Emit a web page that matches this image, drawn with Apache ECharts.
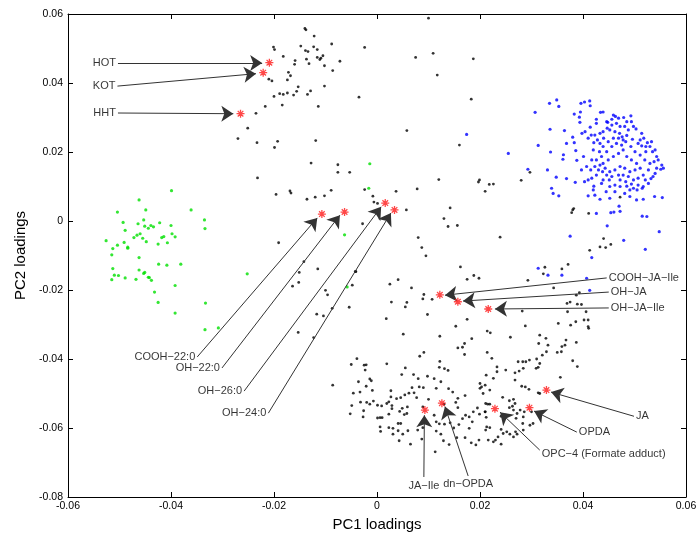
<!DOCTYPE html>
<html><head><meta charset="utf-8">
<script src="https://cdn.jsdelivr.net/npm/echarts@6/dist/echarts.min.js"></script>
<style>html,body{margin:0;padding:0;background:#fff}#c{width:700px;height:536px}</style>
</head><body><div id="c"></div>
<script>
const xTicks = [-0.06, -0.04, -0.02, 0, 0.02, 0.04, 0.06];
const yTicks = [-0.08, -0.06, -0.04, -0.02, 0, 0.02, 0.04, 0.06];

const blackPoints = [
[-0.0140,0.0558],[-0.0138,0.0554],[-0.0122,0.0536],[-0.0088,0.0513],[-0.0024,0.0503],[-0.0201,0.0504],[-0.0199,0.0497],[-0.0148,0.0507],[-0.0139,0.0494],[-0.0134,0.0491],[-0.0123,0.0505],[-0.0116,0.0497],[-0.0105,0.0479],[-0.0116,0.0474],[-0.0111,0.0468],[-0.0109,0.0472],[-0.0137,0.0469],[-0.0132,0.0456],[-0.0102,0.0450],[-0.0072,0.0463],[-0.0086,0.0436],[-0.0182,0.0477],[-0.0159,0.0465],[-0.0160,0.0454],[-0.0172,0.0431],[-0.0168,0.0421],[-0.0174,0.0409],[-0.0210,0.0411],[-0.0204,0.0406],[-0.0153,0.0389],[-0.0156,0.0376],[-0.0162,0.0365],[-0.0174,0.0371],[-0.0182,0.0367],[-0.0189,0.0369],[-0.0200,0.0361],[-0.0129,0.0377],[-0.0135,0.0367],[-0.0102,0.0391],[-0.0035,0.0359],[-0.0114,0.0332],[-0.0184,0.0336],[-0.0217,0.0332],[-0.0235,0.0312],[-0.0251,0.0269],[-0.0270,0.0239],[-0.0233,0.0227],[-0.0193,0.0231],[-0.0119,0.0233],
[0.0100,0.0588],[0.0075,0.0474],[0.0109,0.0486],[0.0187,0.0470],[0.0117,0.0423],[0.0183,0.0353],
[0.0058,0.0262],[0.0160,0.0220],[0.0120,0.0120],[0.0199,0.0119],[0.0197,0.0113],[0.0218,0.0106],[0.0226,0.0107],[0.0210,0.0086],[0.0280,0.0118],[0.0297,0.0141],[0.0037,0.0086],[0.0078,0.0093],[0.0057,0.0032],[0.0142,0.0038],[0.0130,0.0007],[0.0138,-0.0016],[0.0156,-0.0013],[0.0080,-0.0048],[0.0087,-0.0077],[0.0095,-0.0101],[0.0239,-0.0047],[0.0162,-0.0133],[0.0175,-0.0169],[0.0188,-0.0158],[0.0198,-0.0166],[0.0293,-0.0172],[0.0025,-0.0183],[0.0041,-0.0170],[0.0067,-0.0194],[0.0091,-0.0213],[0.0107,-0.0227],
[0.0326,-0.0134],[0.0323,-0.0153],[0.0359,-0.0139],[0.0371,-0.0126],[0.0343,-0.0194],
[0.0472,0.0069],[0.0380,0.0032],[0.0382,0.0036],[0.0378,0.0024],[0.0411,0.0022],[0.0440,-0.0051],[0.0433,-0.0075],[0.0444,-0.0077],[0.0454,-0.0068],[0.0413,-0.0085],
[-0.0199,0.0213],[-0.0128,0.0168],[-0.0076,0.0163],[-0.0076,0.0141],[-0.0053,0.0141],[-0.0232,0.0125],[-0.0196,0.0077],[-0.0169,0.0087],[-0.0167,0.0081],[-0.0136,0.0063],[-0.0120,0.0069],[-0.0102,0.0073],[-0.0089,0.0089],[-0.0024,0.0091],[-0.0008,0.0072],[-0.0006,0.0055],[0.0001,0.0051],[-0.0191,-0.0063],[-0.0028,-0.0008],[-0.0142,-0.0118],[-0.0115,-0.0139],[-0.0151,-0.0149],[-0.0152,-0.0178],[-0.0164,-0.0189],[-0.0042,-0.0146],[-0.0048,-0.0186],[-0.0100,-0.0201],[-0.0096,-0.0214],[-0.0054,-0.0250],[-0.0087,-0.0253],[-0.0117,-0.0270],[-0.0104,-0.0275],[0.0018,-0.0283],[-0.0153,-0.0323],[-0.0123,-0.0338],
[-0.0041,-0.0147],[0.0089,-0.0226],[0.0028,-0.0235],[0.0058,-0.0236],[0.0055,-0.0249],[0.0098,-0.0271],[0.0051,-0.0328],[0.0122,-0.0334],[0.0175,-0.0285],[0.0153,-0.0305],[0.0184,-0.0341],[0.0170,-0.0355],[0.0166,-0.0366],[0.0157,-0.0368],[0.0214,-0.0319],[0.0214,-0.0381],[0.0170,-0.0387],[0.0091,-0.0381],[0.0083,-0.0392],[-0.0039,-0.0399],[-0.0050,-0.0416],[-0.0025,-0.0418],[-0.0021,-0.0417],[-0.0023,-0.0432],[0.0019,-0.0414],[0.0122,-0.0407],[0.0121,-0.0424],[0.0131,-0.0428],[0.0138,-0.0433],[0.0055,-0.0426],[0.0048,-0.0445],[0.0071,-0.0445],[0.0080,-0.0457],[0.0098,-0.0450],[0.0111,-0.0457],[0.0124,-0.0466],[0.0082,-0.0481],[0.0090,-0.0483],[0.0115,-0.0485],[-0.0086,-0.0476],[-0.0036,-0.0466],[-0.0014,-0.0458],[-0.0011,-0.0463],[-0.0021,-0.0479],[-0.0009,-0.0491],[-0.0046,-0.0499],[-0.0033,-0.0496],[-0.0032,-0.0525],[-0.0049,-0.0535],[-0.0026,-0.0550],[-0.0052,-0.0559],[-0.0027,-0.0568],[-0.0020,-0.0526],[-0.0014,-0.0531],[-0.0007,-0.0522],[0.0001,-0.0534],[0.0009,-0.0536],[0.0006,-0.0570],[0.0001,-0.0571],[0.0010,-0.0570],[0.0019,-0.0529],[0.0023,-0.0524],[0.0027,-0.0510],[0.0027,-0.0492],[0.0029,-0.0535],[0.0029,-0.0544],[0.0038,-0.0515],[0.0046,-0.0512],[0.0054,-0.0504],[0.0062,-0.0499],[0.0068,-0.0483],[0.0072,-0.0498],[0.0077,-0.0512],[0.0059,-0.0539],[0.0049,-0.0543],[0.0044,-0.0552],[0.0053,-0.0561],[0.0058,-0.0558],[0.0023,-0.0560],[0.0031,-0.0601],[0.0041,-0.0587],[0.0046,-0.0587],[0.0041,-0.0608],[0.0050,-0.0618],[0.0060,-0.0608],[0.0023,-0.0599],[0.0031,-0.0618],[0.0006,-0.0597],[0.0007,-0.0610],[0.0043,-0.0637],[0.0065,-0.0647],[0.0079,-0.0606],[0.0089,-0.0599],[0.0087,-0.0632],[0.0089,-0.0539],[0.0100,-0.0517],[0.0111,-0.0563],[0.0115,-0.0582],[0.0121,-0.0588],[0.0115,-0.0609],[0.0124,-0.0618],[0.0131,-0.0589],[0.0142,-0.0585],[0.0149,-0.0600],[0.0159,-0.0590],[0.0166,-0.0573],[0.0172,-0.0563],[0.0179,-0.0568],[0.0179,-0.0601],[0.0185,-0.0582],[0.0187,-0.0553],[0.0195,-0.0542],[0.0199,-0.0560],[0.0210,-0.0553],[0.0212,-0.0569],[0.0211,-0.0606],[0.0215,-0.0531],[0.0129,-0.0637],[0.0140,-0.0648],[0.0155,-0.0628],[0.0171,-0.0628],[0.0183,-0.0643],[0.0192,-0.0649],[0.0113,-0.0669],[0.0157,-0.0541],[0.0153,-0.0526],[0.0157,-0.0514],[0.0171,-0.0506],[0.0147,-0.0496],[0.0139,-0.0486],[0.0210,-0.0476],[0.0206,-0.0500],[0.0200,-0.0485],[0.0212,-0.0447],[0.0198,-0.0635],[0.0130,-0.0531],
[0.0387,-0.0215],[0.0393,-0.0208],[0.0369,-0.0239],[0.0375,-0.0235],[0.0389,-0.0241],[0.0397,-0.0242],[0.0370,-0.0263],[0.0406,-0.0263],[0.0282,-0.0261],[0.0410,-0.0287],[0.0402,-0.0287],[0.0410,-0.0306],[0.0411,-0.0311],[0.0352,-0.0297],[0.0376,-0.0302],[0.0386,-0.0292],[0.0288,-0.0304],[0.0220,-0.0324],[0.0259,-0.0337],[0.0316,-0.0331],[0.0328,-0.0340],[0.0387,-0.0352],[0.0367,-0.0345],[0.0365,-0.0360],[0.0359,-0.0364],[0.0358,-0.0379],[0.0350,-0.0381],[0.0314,-0.0355],[0.0332,-0.0360],[0.0329,-0.0379],[0.0321,-0.0389],[0.0310,-0.0400],[0.0316,-0.0413],[0.0313,-0.0424],[0.0309,-0.0427],[0.0296,-0.0403],[0.0289,-0.0408],[0.0283,-0.0408],[0.0274,-0.0408],[0.0284,-0.0427],[0.0276,-0.0435],[0.0268,-0.0440],[0.0250,-0.0432],[0.0233,-0.0423],[0.0233,-0.0437],[0.0223,-0.0398],[0.0380,-0.0405],[0.0389,-0.0422],[0.0356,-0.0453],[0.0226,-0.0456],[0.0200,-0.0471],[0.0203,-0.0481],[0.0219,-0.0490],[0.0268,-0.0461],[0.0281,-0.0479],[0.0288,-0.0481],[0.0295,-0.0488],[0.0313,-0.0498],[0.0316,-0.0500],[0.0244,-0.0511],[0.0257,-0.0521],[0.0265,-0.0517],[0.0268,-0.0529],[0.0211,-0.0529],[0.0219,-0.0531],[0.0210,-0.0553],[0.0263,-0.0537],[0.0257,-0.0541],[0.0265,-0.0548],[0.0278,-0.0548],[0.0272,-0.0558],[0.0270,-0.0572],[0.0284,-0.0568],[0.0286,-0.0553],[0.0300,-0.0553],[0.0303,-0.0587],[0.0297,-0.0592],[0.0283,-0.0587],[0.0241,-0.0566],[0.0250,-0.0563],[0.0213,-0.0597],[0.0219,-0.0599],[0.0241,-0.0604],[0.0245,-0.0616],[0.0252,-0.0611],[0.0258,-0.0618],[0.0269,-0.0611],[0.0265,-0.0626],[0.0284,-0.0606],[0.0272,-0.0618],[0.0235,-0.0626],[0.0230,-0.0635],[0.0241,-0.0647],[0.0226,-0.0640],[0.0216,-0.0635]
];

const bluePoints = [
[0.0307,0.0315],[0.0335,0.0341],[0.0349,0.0351],[0.0353,0.0332],[0.0396,0.0341],[0.0403,0.0345],[0.0413,0.0348],[0.0414,0.0334],[0.0383,0.0310],[0.0395,0.0316],[0.0393,0.0301],[0.0394,0.0286],[0.0336,0.0266],[0.0364,0.0262],[0.0313,0.0219],[0.0337,0.0200],[0.0362,0.0192],[0.0361,0.0179],[0.0386,0.0204],[0.0388,0.0176],[0.0383,0.0227],[0.0380,0.0243],[0.0368,0.0225],[0.0398,0.0254],[0.0404,0.0259],[0.0414,0.0272],[0.0426,0.0295],[0.0426,0.0283],[0.0434,0.0315],[0.0439,0.0316],[0.0448,0.0286],[0.0459,0.0307],[0.0463,0.0303],[0.0469,0.0298],[0.0479,0.0300],[0.0493,0.0305],[0.0494,0.0288],[0.0503,0.0267],[0.0514,0.0254],[0.0410,0.0240],[0.0416,0.0249],[0.0421,0.0227],[0.0428,0.0235],[0.0433,0.0225],[0.0440,0.0240],[0.0452,0.0264],[0.0462,0.0259],[0.0471,0.0254],[0.0476,0.0244],[0.0485,0.0248],[0.0496,0.0237],[0.0507,0.0225],[0.0514,0.0218],[0.0522,0.0216],[0.0530,0.0216],[0.0535,0.0201],[0.0522,0.0201],[0.0543,0.0187],[0.0556,0.0153],[0.0551,0.0150],[0.0540,0.0138],[0.0532,0.0123],[0.0521,0.0119],[0.0515,0.0095],[0.0505,0.0090],[0.0498,0.0095],[0.0491,0.0090],[0.0483,0.0114],[0.0472,0.0119],[0.0462,0.0104],[0.0452,0.0100],[0.0445,0.0085],[0.0439,0.0119],[0.0426,0.0133],[0.0417,0.0124],[0.0410,0.0119],[0.0403,0.0114],[0.0385,0.0112],[0.0368,0.0123],[0.0348,0.0127],[0.0331,0.0148],[0.0293,0.0150],[0.0339,0.0095],[0.0342,0.0080],[0.0353,0.0073],[0.0410,0.0073],[0.0420,0.0090],[0.0423,0.0075],[0.0433,0.0063],[0.0452,0.0066],[0.0481,0.0080],[0.0491,0.0071],[0.0504,0.0061],[0.0517,0.0063],[0.0539,0.0071],[0.0554,0.0068],[0.0470,0.0043],[0.0454,0.0024],[0.0460,0.0026],[0.0472,0.0028],[0.0447,-0.0014],[0.0426,0.0022],[0.0515,0.0014],[0.0524,0.0013],[0.0548,-0.0031],[0.0479,-0.0056],[0.0521,-0.0082],[0.0417,-0.0106],[0.0375,-0.0044],[0.0313,-0.0137],[0.0332,-0.0157],[0.0359,-0.0157],[0.0407,-0.0166],
[0.0439,0.0167],[0.0449,0.0177],[0.0459,0.0187],[0.0469,0.0196],[0.0478,0.0206],[0.0485,0.0187],[0.0494,0.0177],[0.0504,0.0167],[0.0511,0.0153],[0.0501,0.0148],[0.0491,0.0143],[0.0481,0.0153],[0.0472,0.0158],[0.0462,0.0148],[0.0452,0.0143],[0.0443,0.0153],[0.0433,0.0162],[0.0436,0.0187],[0.0446,0.0201],[0.0456,0.0216],[0.0465,0.0225],[0.0475,0.0220],[0.0483,0.0230],[0.0493,0.0216],[0.0501,0.0201],[0.0511,0.0191],[0.0520,0.0177],[0.0530,0.0167],[0.0538,0.0172],[0.0527,0.0148],[0.0517,0.0133],[0.0507,0.0124],[0.0498,0.0119],[0.0488,0.0129],[0.0478,0.0133],[0.0469,0.0133],[0.0456,0.0129],[0.0446,0.0133],[0.0438,0.0143],[0.0430,0.0148],[0.0423,0.0158],[0.0426,0.0177],[0.0432,0.0201],[0.0439,0.0216],[0.0449,0.0230],[0.0459,0.0240],[0.0469,0.0240],[0.0478,0.0235],[0.0488,0.0264],[0.0481,0.0274],[0.0472,0.0274],[0.0465,0.0283],[0.0456,0.0278],[0.0447,0.0269],[0.0439,0.0259],[0.0433,0.0254],[0.0423,0.0249],[0.0420,0.0206],[0.0417,0.0177],[0.0415,0.0148],[0.0407,0.0158],[0.0401,0.0187],[0.0397,0.0148],[0.0446,0.0288],[0.0456,0.0295],[0.0485,0.0288],[0.0498,0.0274],[0.0511,0.0235],[0.0518,0.0240],[0.0525,0.0227],[0.0533,0.0230],[0.0540,0.0206],[0.0546,0.0177],[0.0553,0.0162],[0.0543,0.0153],[0.0536,0.0129],[0.0527,0.0109],[0.0517,0.0100],[0.0507,0.0104],[0.0494,0.0107],[0.0485,0.0101],[0.0472,0.0100],[0.0462,0.0085],[0.0451,0.0119],[0.0436,0.0109],[0.0421,0.0101],
[0.0174,0.0251],[0.0255,0.0196],[0.0413,-0.0201]
];

const greenPoints = [
[-0.0399,0.0088],[-0.0462,0.0061],[-0.0504,0.0026],[-0.0449,0.0032],[-0.0361,0.0032],[-0.0335,0.0003],[-0.0334,-0.0022],[-0.0493,-0.0004],[-0.0489,-0.0027],[-0.0464,-0.0008],[-0.0453,0.0003],[-0.0451,-0.0015],[-0.0444,-0.0021],[-0.0439,-0.0013],[-0.0434,-0.0017],[-0.0422,-0.0005],[-0.0400,-0.0013],[-0.0398,-0.0037],[-0.0392,-0.0046],[-0.0407,-0.0063],[-0.0418,-0.0048],[-0.0414,-0.0045],[-0.0425,-0.0067],[-0.0448,-0.0060],[-0.0455,-0.0050],[-0.0460,-0.0037],[-0.0466,-0.0041],[-0.0472,-0.0048],[-0.0526,-0.0057],[-0.0491,-0.0062],[-0.0504,-0.0070],[-0.0513,-0.0080],[-0.0484,-0.0076],[-0.0484,-0.0079],[-0.0515,-0.0098],[-0.0462,-0.0106],[-0.0424,-0.0125],[-0.0408,-0.0128],[-0.0381,-0.0125],[-0.0513,-0.0138],[-0.0462,-0.0142],[-0.0453,-0.0152],[-0.0451,-0.0149],[-0.0444,-0.0163],[-0.0442,-0.0164],[-0.0438,-0.0172],[-0.0468,-0.0169],[-0.0489,-0.0165],[-0.0502,-0.0158],[-0.0510,-0.0157],[-0.0515,-0.0170],[-0.0392,-0.0187],[-0.0432,-0.0206],[-0.0425,-0.0236],[-0.0392,-0.0267],[-0.0333,-0.0238],[-0.0334,-0.0315],[-0.0308,-0.0310],
[-0.0014,0.0166],[-0.0016,0.0095],[-0.0063,-0.0040],[-0.0252,-0.0153],[-0.0058,-0.0191]
];

const markerNames = ['HOT','KOT','HHT','COOH−22:0','OH−22:0','OH−26:0','OH−24:0','COOH−JA−Ile','OH−JA','OH−JA−Ile','JA','OPDA','OPC−4 (Formate adduct)','dn−OPDA','JA−Ile'];
const markerX = [-0.0209,-0.0221,-0.0265,-0.0107,-0.0063,0.0016,0.0034,0.0122,0.0157,0.0216,0.0329,0.0296,0.0229,0.0126,0.0093];
const markerY = [0.0459,0.0430,0.0311,0.0020,0.0026,0.0052,0.0032,-0.0214,-0.0234,-0.0255,-0.0490,-0.0541,-0.0544,-0.0528,-0.0548];
const labelX = [-0.0503,-0.0504,-0.0503,-0.0349,-0.0301,-0.0258,-0.0211,0.0446,0.0450,0.0450,0.0499,0.0388,0.0316,0.0177,0.0091];
const labelY = [0.0458,0.0391,0.0313,-0.0394,-0.0426,-0.0493,-0.0557,-0.0165,-0.0206,-0.0252,-0.0566,-0.0612,-0.0664,-0.0739,-0.0742];
const tipX = [-0.0223,-0.0235,-0.0279,-0.0116,-0.0072,0.0008,0.0027,0.0132,0.0167,0.0229,0.0338,0.0305,0.0239,0.0132,0.0092];
const tipY = [0.0458,0.0427,0.0311,0.0009,0.0017,0.0041,0.0023,-0.0215,-0.0232,-0.0255,-0.0496,-0.0551,-0.0554,-0.0538,-0.0563];

// label placement (style)
const placement = ['left','left','left','left','left','left','left','right','right','right','right','right','right','bottom','bottom'];

const FONT = 'Liberation Sans, Arial, Helvetica, sans-serif';
const fmt = v => Math.abs(v) < 1e-9 ? '0' : v.toFixed(2);

const chart = echarts.init(document.getElementById('c'), null, {renderer: 'canvas'});

const axisCommon = {
  type: 'value', scale: false,
  axisLine: {show: true, onZero: false, lineStyle: {color: '#000', width: 1}},
  axisTick: {show: true, inside: true, length: 5, lineStyle: {color: '#000'}},
  splitLine: {show: false}
};

const labelData = markerNames.map((n, i) => ({
  name: n, value: [labelX[i], labelY[i]],
  label: {position: placement[i], distance: placement[i] === 'bottom' ? 3 : 2,
          offset: i === 12 ? [0, 4] : [0, 0]}
}));

const arrows = markerNames.map((n, i) => [
  {coord: [labelX[i], labelY[i]]},
  {coord: [tipX[i], tipY[i]]}
]);

const asterisk = 'path://M0,5 L10,5 M5,0 L5,10 M1.5,1.5 L8.5,8.5 M8.5,1.5 L1.5,8.5';

chart.setOption({
  animation: false,
  backgroundColor: '#fff',
  grid: {left: 68, right: 14, top: 14, bottom: 39, containLabel: false, outerBoundsMode: 'none'},
  xAxis: [
    Object.assign({}, axisCommon, {
      min: xTicks[0], max: xTicks[xTicks.length - 1], interval: 0.02, position: 'bottom',
      name: 'PC1 loadings', nameLocation: 'middle', nameGap: 20,
      nameTextStyle: {fontFamily: FONT, fontSize: 15, color: '#000'},
      axisLabel: {formatter: fmt, fontFamily: FONT, fontSize: 10.5, color: '#000', margin: 4}
    }),
    Object.assign({}, axisCommon, {
      min: xTicks[0], max: xTicks[xTicks.length - 1], interval: 0.02, position: 'top',
      axisLabel: {show: false}
    })
  ],
  yAxis: [
    Object.assign({}, axisCommon, {
      min: yTicks[0], max: yTicks[yTicks.length - 1], interval: 0.02, position: 'left',
      name: 'PC2 loadings', nameLocation: 'middle', nameGap: 40,
      nameTextStyle: {fontFamily: FONT, fontSize: 15, color: '#000'},
      axisLabel: {formatter: fmt, fontFamily: FONT, fontSize: 10.5, color: '#000', margin: 5}
    }),
    Object.assign({}, axisCommon, {
      min: yTicks[0], max: yTicks[yTicks.length - 1], interval: 0.02, position: 'right',
      axisLabel: {show: false}
    })
  ],
  series: [
    {type: 'scatter', name: 'black', data: blackPoints, symbol: 'circle', symbolSize: 2.8,
     itemStyle: {color: '#000'}, silent: true},
    {type: 'scatter', name: 'blue', data: bluePoints, symbol: 'circle', symbolSize: 3.2,
     itemStyle: {color: '#0000ff'}, silent: true},
    {type: 'scatter', name: 'green', data: greenPoints, symbol: 'circle', symbolSize: 3.2,
     itemStyle: {color: '#00e000'}, silent: true},
    {type: 'scatter', name: 'labels', data: labelData, symbolSize: 0, silent: true,
     label: {show: true, formatter: p => p.name, fontFamily: FONT, fontSize: 11, color: '#000'},
     markLine: {
       silent: true, animation: false,
       symbol: ['none', 'arrow'], symbolSize: 12,
       label: {show: false},
       lineStyle: {color: '#333', width: 1, type: 'solid'},
       emphasis: {disabled: true},
       data: arrows
     }},
    {type: 'scatter', name: 'markers', data: markerX.map((x, i) => [x, markerY[i]]),
     symbol: asterisk, symbolSize: 8, silent: true, z: 5,
     itemStyle: {color: 'rgba(255,0,0,0.15)', borderColor: '#ff1a1a', borderWidth: 1.3}}
  ]
});
</script>
</body></html>
